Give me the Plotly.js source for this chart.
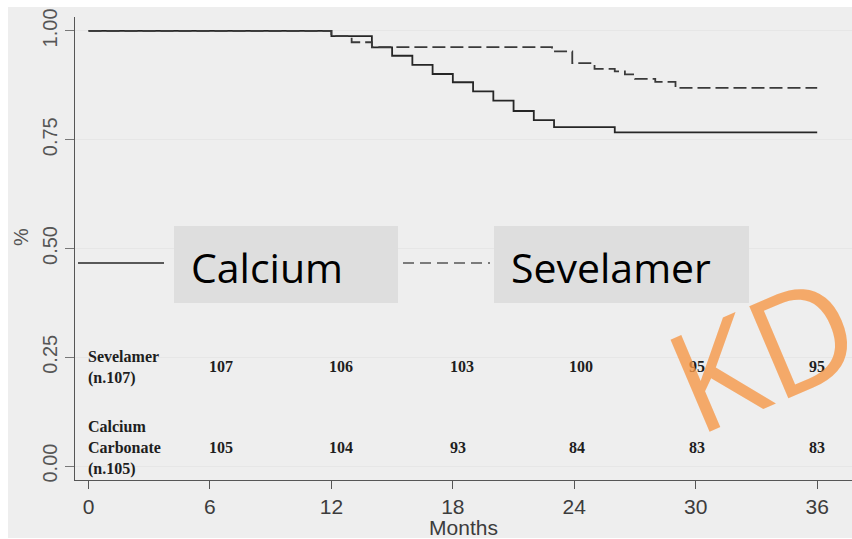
<!DOCTYPE html>
<html>
<head>
<meta charset="utf-8">
<script src="https://cdn.plot.ly/plotly-3.0.1.min.js"></script>
<style>
  html, body { margin: 0; padding: 0; background: #ffffff; }
  #chart { width: 852px; height: 539px; }
</style>
</head>
<body>
<div id="chart"></div>
<script>
// Kaplan-Meier survival estimates (step functions), months vs proportion
const calciumMonths = [0, 12, 14, 15, 16, 17, 18, 19, 20, 21, 22, 23, 26, 36];
const calciumSurv   = [1.0, 0.988, 0.962, 0.943, 0.922, 0.901, 0.882, 0.861, 0.840, 0.816, 0.795, 0.779, 0.767, 0.767];

const sevelamerMonths = [0, 12, 13, 14, 22.9, 23.9, 25, 26, 26.5, 27, 28, 29, 36];
const sevelamerSurv   = [1.0, 0.988, 0.974, 0.963, 0.953, 0.926, 0.913, 0.907, 0.900, 0.890, 0.883, 0.869, 0.869];

// Axis ticks
const monthTicks = [0, 6, 12, 18, 24, 30, 36];
const survTicks = [0, 0.25, 0.5, 0.75, 1.0];
const survTickText = ["0.00", "0.25", "0.50", "0.75", "1.00"];

// Number at risk table
const riskMonths = [6, 12, 18, 24, 30, 36];
const riskSevelamer = [107, 106, 103, 100, 95, 95];
const riskCalcium = [105, 104, 93, 84, 83, 83];
const riskLabelSevelamer = "Sevelamer<br>(n.107)";
const riskLabelCalcium = "Calcium<br>Carbonate<br>(n.105)";

const legendNames = ["Calcium", "Sevelamer"];

// Plot area geometry (pixels)
const W = 852, H = 539;
const M = {l: 75, r: 0, t: 17, b: 59};
const plotW = W - M.l - M.r, plotH = H - M.t - M.b;
const px = x => (x - M.l) / plotW;
const py = y => (H - M.b - y) / plotH;

const lineColor = "#262626";

const traces = [
  {
    x: calciumMonths, y: calciumSurv, type: "scatter", mode: "lines",
    line: {shape: "hv", color: lineColor, width: 1.8},
    name: legendNames[0], hoverinfo: "skip"
  },
  {
    x: sevelamerMonths, y: sevelamerSurv, type: "scatter", mode: "lines",
    line: {shape: "hv", color: "#3a3a3a", width: 1.8, dash: "13px,5px"},
    name: legendNames[1], hoverinfo: "skip"
  }
];

const serif = "Liberation Serif, Times New Roman, serif";
const annotations = [];
// risk table rows (left aligned numbers under each month tick)
const riskShift = [-3, -4, -5, -7, -9, -10];
riskMonths.forEach((m, i) => {
  annotations.push({
    x: m, y: py(366), xref: "x", yref: "paper", xanchor: "left", yanchor: "middle",
    xshift: riskShift[i], text: "<b>" + riskSevelamer[i] + "</b>", showarrow: false,
    font: {family: serif, size: 16, color: "#1e1e1e"}
  });
  annotations.push({
    x: m, y: py(447), xref: "x", yref: "paper", xanchor: "left", yanchor: "middle",
    xshift: riskShift[i], text: "<b>" + riskCalcium[i] + "</b>", showarrow: false,
    font: {family: serif, size: 16, color: "#1e1e1e"}
  });
});
annotations.push({
  x: px(86), y: py(367), xref: "paper", yref: "paper", xanchor: "left", yanchor: "middle",
  align: "left", text: "<b>" + riskLabelSevelamer + "</b>", showarrow: false,
  font: {family: serif, size: 16, color: "#1e1e1e"}
});
annotations.push({
  x: px(86), y: py(448), xref: "paper", yref: "paper", xanchor: "left", yanchor: "middle",
  align: "left", text: "<b>" + riskLabelCalcium + "</b>", showarrow: false,
  font: {family: serif, size: 16, color: "#1e1e1e"}
});
// y axis title
annotations.push({
  x: px(21), y: py(237), xref: "paper", yref: "paper", xanchor: "center", yanchor: "middle",
  text: "%", textangle: -90, showarrow: false,
  font: {family: "Liberation Sans, Arial, sans-serif", size: 20, color: "#555555"}
});
// legend labels
annotations.push({
  x: px(189), y: py(267), xref: "paper", yref: "paper", xanchor: "left", yanchor: "middle",
  text: legendNames[0], showarrow: false,
  font: {family: "Open Sans, sans-serif", size: 41, color: "#000000"}
});
annotations.push({
  x: px(509), y: py(267), xref: "paper", yref: "paper", xanchor: "left", yanchor: "middle",
  text: legendNames[1], showarrow: false,
  font: {family: "Open Sans, sans-serif", size: 41, color: "#000000"}
});
// watermark
annotations.push({
  x: px(761), y: py(350), xref: "paper", yref: "paper", xanchor: "center", yanchor: "middle",
  text: "KD", textangle: -23, showarrow: false,
  font: {family: "Open Sans, sans-serif", size: 140, color: "rgba(246,150,68,0.78)"}
});

const shapes = [
  // page background
  {type: "rect", xref: "paper", yref: "paper", x0: px(8), x1: px(852), y0: py(538), y1: py(7),
   fillcolor: "#eeeeee", line: {width: 0}, layer: "below"},
  // legend boxes
  {type: "rect", xref: "paper", yref: "paper", x0: px(174), x1: px(398), y0: py(303), y1: py(226),
   fillcolor: "#dedede", line: {width: 0}, layer: "above"},
  {type: "rect", xref: "paper", yref: "paper", x0: px(494), x1: px(749), y0: py(303), y1: py(226),
   fillcolor: "#dedede", line: {width: 0}, layer: "above"},
  // legend line samples
  {type: "line", xref: "paper", yref: "paper", x0: px(78), x1: px(164), y0: py(263), y1: py(263),
   line: {color: lineColor, width: 1.6}},
  {type: "line", xref: "paper", yref: "paper", x0: px(403), x1: px(490), y0: py(263), y1: py(263),
   line: {color: "#555555", width: 1.6, dash: "11px,6px"}}
];

const layout = {
  width: W, height: H,
  margin: M,
  paper_bgcolor: "#ffffff",
  plot_bgcolor: "rgba(0,0,0,0)",
  showlegend: false,
  font: {family: "Liberation Sans, Arial, sans-serif"},
  xaxis: {
    range: [-0.667, 37.72], tickvals: monthTicks, ticktext: monthTicks.map(String),
    ticks: "outside", ticklen: 8, tickwidth: 1, tickcolor: "#555555",
    tickfont: {size: 21, color: "#3c3c3c"},
    showline: true, linecolor: "#555555", linewidth: 1,
    showgrid: false, zeroline: false,
    title: {text: "Months", font: {size: 21, color: "#3c3c3c"}, standoff: 1}
  },
  yaxis: {
    range: [-0.032, 1.032], tickvals: survTicks, ticktext: survTickText,
    tickangle: -90,
    ticks: "outside", ticklen: 9, tickwidth: 1, tickcolor: "#777777",
    tickfont: {size: 20, color: "#555555"},
    showline: true, linecolor: "#555555", linewidth: 1,
    showgrid: true, gridcolor: "#e6e6e6", gridwidth: 1, zeroline: false
  },
  shapes: shapes,
  annotations: annotations
};

Plotly.newPlot("chart", traces, layout, {staticPlot: true, displayModeBar: false});
</script>
</body>
</html>
